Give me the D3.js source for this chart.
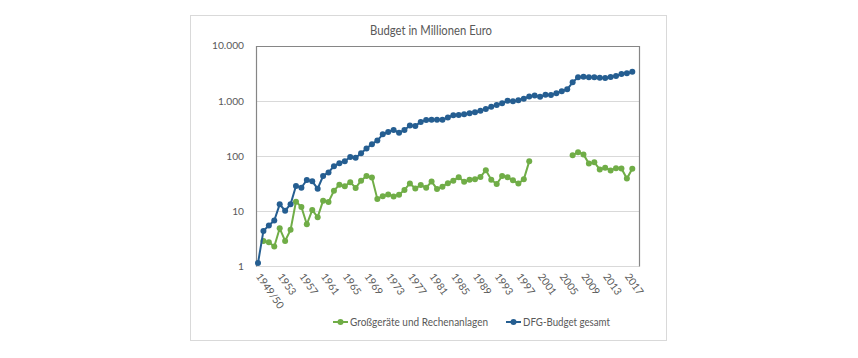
<!DOCTYPE html>
<html>
<head>
<meta charset="utf-8">
<script src="https://cdn.jsdelivr.net/npm/d3@7"></script>
<style>
  html, body { margin: 0; padding: 0; background: #ffffff; }
  svg { display: block; }
  text { font-family: Lato, "Open Sans", sans-serif; fill: #595959; }
</style>
</head>
<body>
<svg id="chart" width="858" height="358"></svg>
<script>
const title = "Budget in Millionen Euro";

const categories = [
  "1949/50","1950","1951","1952","1953","1954","1955","1956","1957","1958",
  "1959","1960","1961","1962","1963","1964","1965","1966","1967","1968",
  "1969","1970","1971","1972","1973","1974","1975","1976","1977","1978",
  "1979","1980","1981","1982","1983","1984","1985","1986","1987","1988",
  "1989","1990","1991","1992","1993","1994","1995","1996","1997","1998",
  "1999","2000","2001","2002","2003","2004","2005","2006","2007","2008",
  "2009","2010","2011","2012","2013","2014","2015","2016","2017","2018"
];

const tickLabels = ["1949/50","1953","1957","1961","1965","1969","1973","1977","1981",
  "1985","1989","1993","1997","2001","2005","2009","2013","2017"];

const yTicks = [1, 10, 100, 1000, 10000];
const yTickLabels = ["1", "10", "100", "1.000", "10.000"];

const seriesNames = ["Großgeräte und Rechenanlagen", "DFG-Budget gesamt"];

const grossgeraete = [
  null, 2.9, 2.75, 2.3, 4.9, 2.9, 4.6, 14.9, 11.9, 5.8,
  10.5, 7.8, 15.5, 14.7, 23.5, 30.2, 28.2, 33.6, 26.4, 35.8,
  43.5, 40.8, 16.7, 18.7, 20, 18.5, 19.9, 24.3, 31.9, 25.9,
  29.7, 26.7, 34.4, 25.3, 27.8, 32.2, 35.7, 41.1, 34.2, 37.2,
  37.8, 41.7, 55, 37.2, 31.1, 43.4, 41.1, 36.3, 31.6, 37.8,
  80, null, null, null, null, null, null, null, 103, 117,
  107, 73, 77, 57, 61.4, 54.6, 60.2, 59.4, 39, 58.9
];

const dfgBudget = [
  1.15, 4.4, 5.5, 6.8, 13.3, 10.2, 13.4, 28.6, 26.7, 36.7,
  34.8, 25.6, 43.4, 50.5, 65.5, 74, 80.5, 96, 93, 112,
  137, 164, 190, 247, 272, 297, 263, 296, 357, 351,
  415, 449, 455, 455, 452, 498, 546, 553, 569, 593,
  619, 662, 710, 782, 839, 901, 1005, 980, 1021, 1092,
  1200, 1250, 1186, 1291, 1274, 1367, 1486, 1615, 2163, 2666,
  2737, 2666, 2666, 2622, 2588, 2700, 2812, 3060, 3148, 3366
];

const colors = ["#70AD47", "#255E91"];

const svg = d3.select("#chart");

// outer chart border
svg.append("rect")
  .attr("x", 190.5).attr("y", 15.5).attr("width", 476).attr("height", 325)
  .attr("fill", "#fff").attr("stroke", "#d9d9d9").attr("stroke-width", 1);

const plot = { left: 256, right: 639.5, top: 45.6, bottom: 266.4 };

const x = d3.scalePoint().domain(categories).range([258, 632.3]);
const y = d3.scaleLog().domain([1, 10000]).range([plot.bottom, plot.top]);

// title
svg.append("text")
  .attr("x", 431).attr("y", 35)
  .attr("text-anchor", "middle")
  .attr("font-size", 12.5)
  .attr("textLength", 122).attr("lengthAdjust", "spacingAndGlyphs")
  .text(title);

// gridlines
svg.append("g")
  .selectAll("line")
  .data(yTicks.slice(0, 4))
  .join("line")
  .attr("x1", plot.left).attr("x2", plot.right)
  .attr("y1", d => Math.round(y(d)) + 0.5).attr("y2", d => Math.round(y(d)) + 0.5)
  .attr("stroke", "#d9d9d9").attr("stroke-width", 1);

// plot frame (top, left, right)
const frame = d3.path();
frame.moveTo(plot.left + 0.5, Math.round(plot.bottom) + 0.5);
frame.lineTo(plot.left + 0.5, Math.round(plot.top) + 0.5);
frame.lineTo(plot.right, Math.round(plot.top) + 0.5);
frame.lineTo(plot.right, Math.round(plot.bottom) + 0.5);
svg.append("path").attr("d", frame.toString())
  .attr("fill", "none").attr("stroke", "#868686").attr("stroke-width", 1.2);

// y axis
const yAxis = d3.axisLeft(y)
  .tickValues(yTicks)
  .tickFormat((d, i) => yTickLabels[i])
  .tickSize(0).tickPadding(0);
const gy = svg.append("g").attr("transform", `translate(244,0)`).call(yAxis);
gy.select(".domain").remove();
gy.selectAll("text").attr("font-size", 10.2).style("font-family", "Lato, sans-serif").attr("fill", "#595959");

// x axis labels
const xAxis = d3.axisBottom(x)
  .tickValues(tickLabels)
  .tickSize(0).tickPadding(0);
const gx = svg.append("g").attr("transform", `translate(0,${plot.bottom})`).call(xAxis);
gx.select(".domain").remove();
gx.selectAll("text")
  .attr("font-size", 10.3)
  .style("font-family", "Lato, sans-serif")
  .attr("fill", "#595959")
  .attr("text-anchor", "start")
  .attr("y", 0).attr("dy", 0)
  .attr("transform", "translate(-3,10) rotate(55)");

// series
const seriesData = [grossgeraete, dfgBudget];
seriesData.forEach((vals, si) => {
  const line = d3.line()
    .defined(d => d != null)
    .x((d, i) => x(categories[i]))
    .y(d => y(d));
  svg.append("path")
    .datum(vals)
    .attr("d", line)
    .attr("fill", "none")
    .attr("stroke", colors[si])
    .attr("stroke-width", 2);
  svg.append("g")
    .selectAll("circle")
    .data(vals.map((v, i) => ({ v, c: categories[i] })).filter(d => d.v != null))
    .join("circle")
    .attr("cx", d => x(d.c))
    .attr("cy", d => y(d.v))
    .attr("r", 3)
    .attr("fill", colors[si]);
});

// legend
const legendItems = [
  { name: seriesNames[0], color: colors[0], x: 333, len: 138 },
  { name: seriesNames[1], color: colors[1], x: 506, len: 87 }
];
const lg = svg.append("g");
legendItems.forEach(it => {
  const ly = 322;
  lg.append("line").attr("x1", it.x).attr("x2", it.x + 15)
    .attr("y1", ly).attr("y2", ly)
    .attr("stroke", it.color).attr("stroke-width", 2);
  lg.append("circle").attr("cx", it.x + 7.5).attr("cy", ly).attr("r", 3).attr("fill", it.color);
  lg.append("text").attr("x", it.x + 17).attr("y", ly).attr("dy", "0.35em")
    .attr("font-size", 11)
    .attr("textLength", it.len).attr("lengthAdjust", "spacingAndGlyphs")
    .text(it.name);
});
</script>
</body>
</html>
